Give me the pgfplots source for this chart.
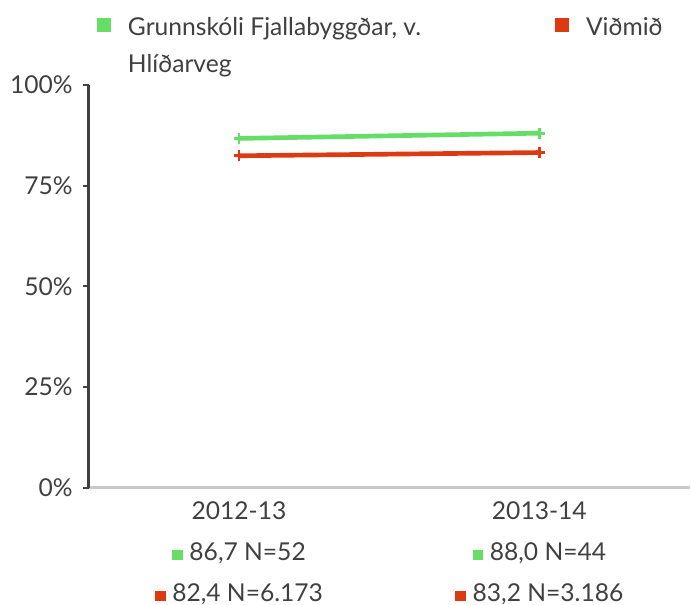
\documentclass[border=0pt]{standalone}
\usepackage{fontspec}
\setmainfont{Lato}
\usepackage{pgfplots}
\pgfplotsset{compat=1.18}
\definecolor{cgreen}{HTML}{66DD66}
\definecolor{cred}{HTML}{DD3A12}
\definecolor{ctext}{HTML}{404040}
\definecolor{caxis}{HTML}{C8C8C8}
\newcommand{\sq}[1]{\textcolor{#1}{\rule{8pt}{8pt}}\hspace{5pt}}

\begin{document}
\begin{tikzpicture}
\begin{axis}[
    scale only axis,
    width=451.5pt, height=303pt,
    xmin=-0.5, xmax=1.5,
    ymin=0, ymax=100,
    axis x line*=bottom,
    axis y line*=left,
    x axis line style={draw=caxis, line width=2.2pt},
    y axis line style={draw=ctext, line width=2.2pt},
    xtick={0,1},
    xticklabels={{2012-13\\\sq{cgreen}86,7 N=52\\\sq{cred}82,4 N=6.173},
                 {2013-14\\\sq{cgreen}88,0 N=44\\\sq{cred}83,2 N=3.186}},
    xtick style={draw=none},
    ytick={0,25,50,75,100},
    yticklabels={0\%,25\%,50\%,75\%,100\%},
    ytick style={draw=ctext, line width=1.5pt},
    tick align=outside,
    major tick length=4pt,
    ticklabel style={font=\fontsize{18.5}{30.75}\selectfont, text=ctext},
    xticklabel style={align=center, anchor=north, inner sep=0pt, yshift=-6pt},
    yticklabel style={anchor=east, inner sep=0pt, xshift=-8pt},
    legend columns=2,
    legend style={at={(0,1)}, anchor=south west, xshift=6pt, yshift=35pt,
        draw=none, fill=none, inner sep=0pt,
        font=\fontsize{18.5}{27.75}\selectfont, text=ctext,
        nodes={inner sep=0pt},
        /tikz/every odd column/.style={column sep=12.75pt}},
    legend image code/.code={\fill (0pt,-1.5pt) rectangle (7pt,5.5pt);},
]
\addplot[color=cgreen, line width=3.5pt, mark=+, mark size=4pt,
    mark options={line width=2.2pt}] coordinates {(0,86.7) (1,88.0)};
\addlegendentry{\parbox[t]{321pt}{Grunnskóli Fjallabyggðar, v.\\Hlíðarveg}}
\addplot[color=cred, line width=3.5pt, mark=+, mark size=4pt,
    mark options={line width=2.2pt}] coordinates {(0,82.4) (1,83.2)};
\addlegendentry{Viðmið}
\end{axis}
\path ([xshift=-66.75pt, yshift=-84.75pt]current axis.south west)
    rectangle ([yshift=63.75pt]current axis.north east);
\end{tikzpicture}
\end{document}
